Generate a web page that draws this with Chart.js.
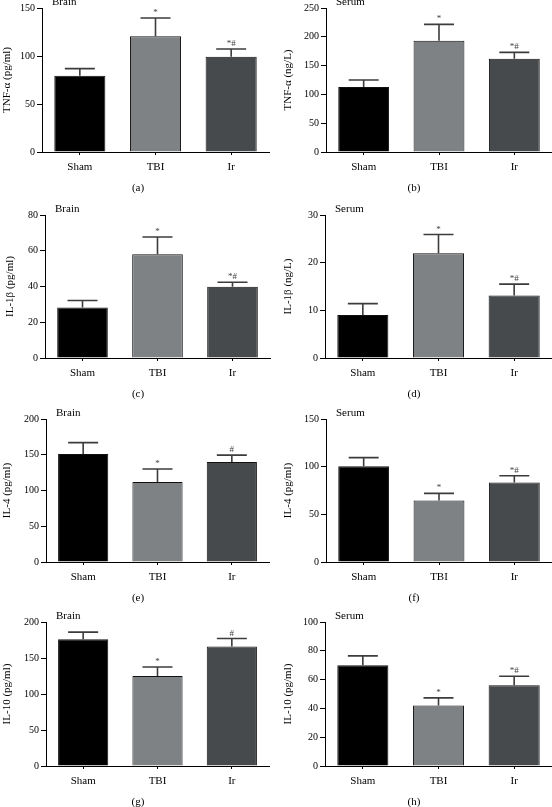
<!DOCTYPE html>
<html>
<head>
<meta charset="utf-8">
<script src="https://cdn.jsdelivr.net/npm/chart.js@4.4.1/dist/chart.umd.min.js"></script>
<style>
  body { margin: 0; background: #fff; }
  #wrap { position: relative; width: 552px; height: 807px; overflow: hidden; background: #fff; }
  #wrap canvas { position: absolute; }
</style>
</head>
<body>
<div id="wrap"></div>
<script>
const groups = ['Sham', 'TBI', 'Ir'];
const barColors = ['#000000', '#7f8285', '#474a4d'];

// (a) TNF-α, brain
const tnfBrain = [79.5, 120.5, 99.3];
const tnfBrainErr = [7.3, 19.1, 8];
const tnfBrainMarks = ['', '*', '*#'];
// (b) TNF-α, serum
const tnfSerum = [113, 193, 162];
const tnfSerumErr = [12, 28.5, 11];
const tnfSerumMarks = ['', '*', '*#'];
// (c) IL-1β, brain
const il1bBrain = [28.3, 58, 39.8];
const il1bBrainErr = [3.9, 9.7, 2.6];
const il1bBrainMarks = ['', '*', '*#'];
// (d) IL-1β, serum
const il1bSerum = [9, 22, 13.1];
const il1bSerumErr = [2.4, 3.9, 2.4];
const il1bSerumMarks = ['', '*', '*#'];
// (e) IL-4, brain
const il4Brain = [151, 112, 140];
const il4BrainErr = [16, 18, 9.5];
const il4BrainMarks = ['', '*', '#'];
// (f) IL-4, serum
const il4Serum = [100.5, 64.5, 83.5];
const il4SerumErr = [9, 7.5, 7];
const il4SerumMarks = ['', '*', '*#'];
// (g) IL-10, brain
const il10Brain = [176, 125, 166];
const il10BrainErr = [10, 12.5, 11];
const il10BrainMarks = ['', '*', '#'];
// (h) IL-10, serum
const il10Serum = [70, 42, 56];
const il10SerumErr = [6.5, 5.3, 6.3];
const il10SerumMarks = ['', '*', '*#'];

const serif = "'Liberation Serif', 'Times New Roman', serif";

// canvas boxes + where the plot area sits inside them
const panels = [
  { letter: '(a)', left: 0,   top: 0,   height: 198, axisX: 42, padTop: 8,  xHeight: 46, padRight: 7, titlePad: 1, where: 'Brain', yTitle: 'TNF-α (pg/ml)', max: 150, step: 50, values: tnfBrain, errors: tnfBrainErr, marks: tnfBrainMarks },
  { letter: '(b)', left: 276, top: 0,   height: 198, axisX: 50, padTop: 8,  xHeight: 46, padRight: 0, titlePad: 6, where: 'Serum', yTitle: 'TNF-α (ng/L)', max: 250, step: 50, values: tnfSerum, errors: tnfSerumErr, marks: tnfSerumMarks },
  { letter: '(c)', left: 0,   top: 198, height: 204, axisX: 45, padTop: 17, xHeight: 44, padRight: 6, titlePad: 4, where: 'Brain', yTitle: 'IL-1β (pg/ml)', max: 80, step: 20, values: il1bBrain, errors: il1bBrainErr, marks: il1bBrainMarks },
  { letter: '(d)', left: 276, top: 198, height: 204, axisX: 49, padTop: 17, xHeight: 44, padRight: 0, titlePad: 6, where: 'Serum', yTitle: 'IL-1β (ng/L)', max: 30, step: 10, values: il1bSerum, errors: il1bSerumErr, marks: il1bSerumMarks },
  { letter: '(e)', left: 0,   top: 402, height: 203, axisX: 46, padTop: 17, xHeight: 43, padRight: 7, titlePad: 1, where: 'Brain', yTitle: 'IL-4 (pg/ml)', max: 200, step: 50, values: il4Brain, errors: il4BrainErr, marks: il4BrainMarks },
  { letter: '(f)', left: 276, top: 402, height: 203, axisX: 50, padTop: 17, xHeight: 43, padRight: 0, titlePad: 6, where: 'Serum', yTitle: 'IL-4 (pg/ml)', max: 150, step: 50, values: il4Serum, errors: il4SerumErr, marks: il4SerumMarks },
  { letter: '(g)', left: 0,   top: 605, height: 202, axisX: 46, padTop: 17, xHeight: 41, padRight: 7, titlePad: 1, where: 'Brain', yTitle: 'IL-10 (pg/ml)', max: 200, step: 50, values: il10Brain, errors: il10BrainErr, marks: il10BrainMarks },
  { letter: '(h)', left: 276, top: 605, height: 202, axisX: 49, padTop: 17, xHeight: 41, padRight: 0, titlePad: 6, where: 'Serum', yTitle: 'IL-10 (pg/ml)', max: 100, step: 20, values: il10Serum, errors: il10SerumErr, marks: il10SerumMarks },
];

// error bars (upper only), significance marks, tissue label and panel letter
const errorBarPlugin = {
  id: 'errorBars',
  afterDatasetsDraw(chart, args, opts) {
    const { ctx, chartArea } = chart;
    const yScale = chart.scales.y;
    const bars = chart.getDatasetMeta(0).data;
    const values = chart.data.datasets[0].data;

    ctx.save();
    ctx.strokeStyle = '#3c3c3c';
    ctx.fillStyle = '#3c3c3c';
    ctx.lineWidth = 1.6;
    bars.forEach((bar, i) => {
      const yTop = yScale.getPixelForValue(values[i] + opts.errors[i]);
      const half = 15;
      ctx.beginPath();
      ctx.moveTo(bar.x, bar.y);
      ctx.lineTo(bar.x, yTop);
      ctx.moveTo(bar.x - half, yTop);
      ctx.lineTo(bar.x + half, yTop);
      ctx.stroke();

      if (opts.marks[i]) {
        ctx.font = '9px ' + serif;
        ctx.textAlign = 'center';
        ctx.textBaseline = 'alphabetic';
        ctx.fillText(opts.marks[i], bar.x, yTop - 3);
      }
    });

    ctx.fillStyle = '#000';
    ctx.font = '11px ' + serif;
    ctx.textAlign = 'left';
    ctx.textBaseline = 'middle';
    ctx.fillText(opts.where, chartArea.left + 10, chartArea.top - 6);

    ctx.textAlign = 'center';
    ctx.fillText(opts.letter, chart.width / 2, chartArea.bottom + 36);
    ctx.restore();
  }
};

const wrap = document.getElementById('wrap');

panels.forEach(p => {
  const canvas = document.createElement('canvas');
  canvas.width = 276;
  canvas.height = p.height;
  canvas.style.left = p.left + 'px';
  canvas.style.top = p.top + 'px';
  canvas.style.width = '276px';
  canvas.style.height = p.height + 'px';
  wrap.appendChild(canvas);

  new Chart(canvas, {
    type: 'bar',
    plugins: [errorBarPlugin],
    data: {
      labels: groups,
      datasets: [{
        data: p.values,
        backgroundColor: barColors,
        borderColor: '#111',
        borderWidth: 1,
        barPercentage: 0.675,
        categoryPercentage: 1,
      }]
    },
    options: {
      responsive: false,
      animation: false,
      devicePixelRatio: 1,
      layout: { padding: { top: p.padTop, right: p.padRight, left: 0, bottom: 0 } },
      plugins: {
        legend: { display: false },
        tooltip: { enabled: false },
        errorBars: { errors: p.errors, marks: p.marks, where: p.where, letter: p.letter },
      },
      scales: {
        x: {
          grid: { display: true, drawOnChartArea: false, offset: false, color: '#000', tickLength: 3, lineWidth: 1 },
          border: { display: true, color: '#000', width: 1 },
          ticks: { color: '#000', padding: 6, font: { family: serif, size: 11 } },
          afterFit: (scale) => { scale.height = p.xHeight; },
        },
        y: {
          min: 0,
          max: p.max,
          ticks: { stepSize: p.step, color: '#000', padding: 2, font: { family: serif, size: 10 } },
          grid: { drawOnChartArea: false, color: '#000', tickLength: 5, lineWidth: 1 },
          border: { display: true, color: '#000', width: 1 },
          title: {
            display: true,
            text: p.yTitle,
            color: '#000',
            font: { family: serif, size: 11 },
            padding: { top: p.titlePad, bottom: 0 },
          },
          afterFit: (scale) => { scale.width = p.axisX; },
        }
      }
    }
  });
});
</script>
</body>
</html>
